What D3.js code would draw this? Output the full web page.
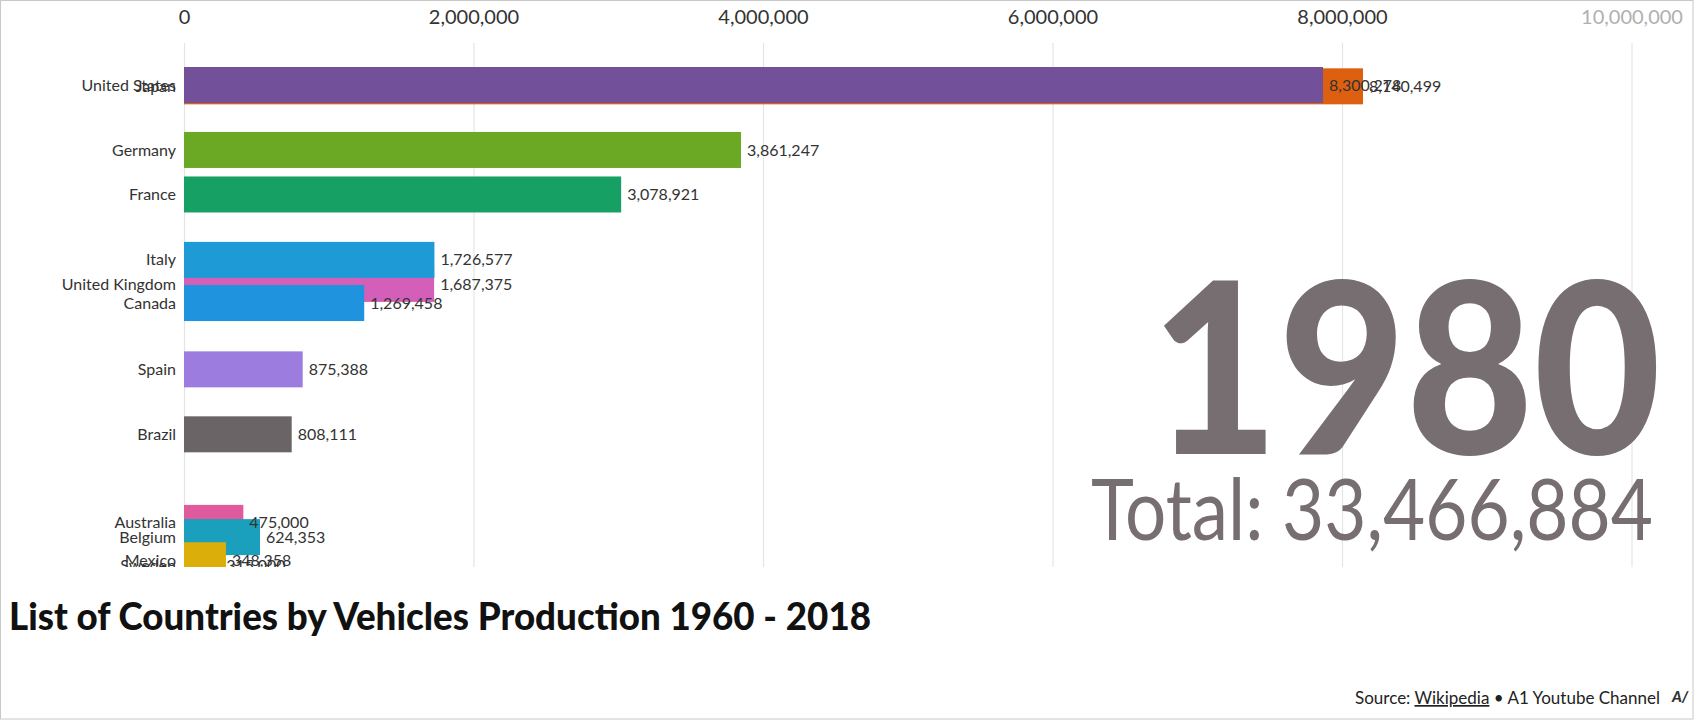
<!DOCTYPE html>
<html>
<head>
<meta charset="utf-8">
<script src="https://cdn.jsdelivr.net/npm/d3@7"></script>
<style>
  html, body { margin: 0; padding: 0; background: #fff; }
  svg { display: block; font-family: Lato, "Open Sans", sans-serif; }
</style>
</head>
<body>
<svg id="chart" width="1694" height="720"></svg>
<script>
// ---- data (frame 1980 of an animated bar race) ----
const countries = ["Japan", "United States", "Germany", "France", "United Kingdom", "Italy", "Canada", "Spain", "Brazil", "Australia", "Belgium", "Sweden", "Mexico"];
const values = [8145000, 7869000, 3848000, 3020000, 1728000, 1730000, 1245000, 820000, 744000, 410000, 525000, 250000, 290000];
const valueLabels = ["8,140,499", "8,300,278", "3,861,247", "3,078,921", "1,687,375", "1,726,577", "1,269,458", "875,388", "808,111", "475,000", "624,353", "315,000", "348,358"];
const ranks = [0.03, 0, 1.46, 2.46, 4.47, 3.93, 4.9, 6.39, 7.85, 9.84, 10.16, 10.8, 10.68];
const colors = ["#dd5f10", "#73509a", "#6ba823", "#17a064", "#d45fb8", "#1e9bd7", "#1f93de", "#9c7ddf", "#6b6466", "#e05a9e", "#1aa0bd", "#2a7fc9", "#dcae0a"];
const tickValues = [0, 2000000, 4000000, 6000000, 8000000, 10000000];
const year = "1980";
const total = "Total: 33,466,884";
const title = "List of Countries by Vehicles Production 1960 - 2018";

const data = countries.map((c, i) => ({ name: c, value: values[i], label: valueLabels[i], rank: ranks[i], color: colors[i] }));

const svg = d3.select("#chart");
const W = 1694, H = 720;

// frame border
svg.append("rect").attr("x", 0.5).attr("y", 0.5).attr("width", W - 1.5).attr("height", H - 1.5)
  .attr("fill", "#fff").attr("stroke", "#c8c8c8");

const x = d3.scaleLinear().domain([0, 10000000]).range([184, 1631.5]);
const y = d3.scaleLinear().domain([0, 1]).range([85, 129.5]); // rank -> bar centre
const barH = 36;
const gridTop = 43, gridBottom = 567;

// clip for chart area
svg.append("clipPath").attr("id", "clip").append("rect")
  .attr("x", 0).attr("y", gridTop).attr("width", W).attr("height", gridBottom - gridTop);

// axis on top
const axis = d3.axisTop(x).tickValues(tickValues).tickFormat(d3.format(",")).tickSize(-(gridBottom - gridTop)).tickPadding(0);
const gAxis = svg.append("g").attr("transform", `translate(0,${gridTop})`).call(axis);
gAxis.select(".domain").remove();
gAxis.selectAll(".tick line").attr("stroke", "#e4e4e4").attr("stroke-width", 1.2)
  .attr("y1", 0).attr("y2", gridBottom - gridTop);
gAxis.selectAll(".tick text").attr("y", -19).attr("font-size", 20).attr("fill", d => d === 10000000 ? "#b0b0b0" : "#333")
  .attr("font-family", "Lato, sans-serif");

// bars
const g = svg.append("g").attr("clip-path", "url(#clip)");
g.selectAll("rect.bar").data(data).join("rect")
  .attr("class", "bar")
  .attr("x", x(0))
  .attr("y", d => y(d.rank) - barH / 2)
  .attr("width", d => x(d.value) - x(0))
  .attr("height", barH)
  .attr("fill", d => d.color);

// country labels
g.selectAll("text.name").data(data).join("text")
  .attr("class", "name")
  .attr("x", x(0) - 8)
  .attr("y", d => y(d.rank))
  .attr("dy", "0.35em")
  .attr("text-anchor", "end")
  .attr("font-size", 16)
  .attr("fill", "#333")
  .text(d => d.name);

// value labels
g.selectAll("text.val").data(data).join("text")
  .attr("class", "val")
  .attr("x", d => x(d.value) + 6)
  .attr("y", d => y(d.rank))
  .attr("dy", "0.35em")
  .attr("font-size", 16)
  .attr("fill", "#333")
  .text(d => d.label);

// year + total
svg.append("text").attr("x", 1661).attr("y", 454).attr("text-anchor", "end")
  .attr("font-size", 238).attr("font-weight", 900).attr("fill", "#776e72")
  .attr("textLength", 510).attr("lengthAdjust", "spacingAndGlyphs").text(year);
svg.append("text").attr("x", 1653).attr("y", 540).attr("text-anchor", "end")
  .attr("font-size", 86).attr("fill", "#776e72")
  .attr("textLength", 562).attr("lengthAdjust", "spacingAndGlyphs").text(total);

// title
svg.append("text").attr("x", 9).attr("y", 630).attr("font-size", 37).attr("font-weight", 900).attr("fill", "#111")
  .attr("textLength", 862).attr("lengthAdjust", "spacingAndGlyphs").text(title);

// source
const src = svg.append("text").attr("x", 1660).attr("y", 704).attr("text-anchor", "end").attr("font-size", 17).attr("fill", "#222");
src.append("tspan").text("Source: ");
src.append("tspan").attr("text-decoration", "underline").text("Wikipedia");
src.append("tspan").text(" \u2022 A1 Youtube Channel");
svg.append("text").attr("x", 1672).attr("y", 702).attr("font-size", 15).attr("font-weight", 900)
  .attr("font-style", "italic").attr("fill", "#333").text("A/");
</script>
</body>
</html>
